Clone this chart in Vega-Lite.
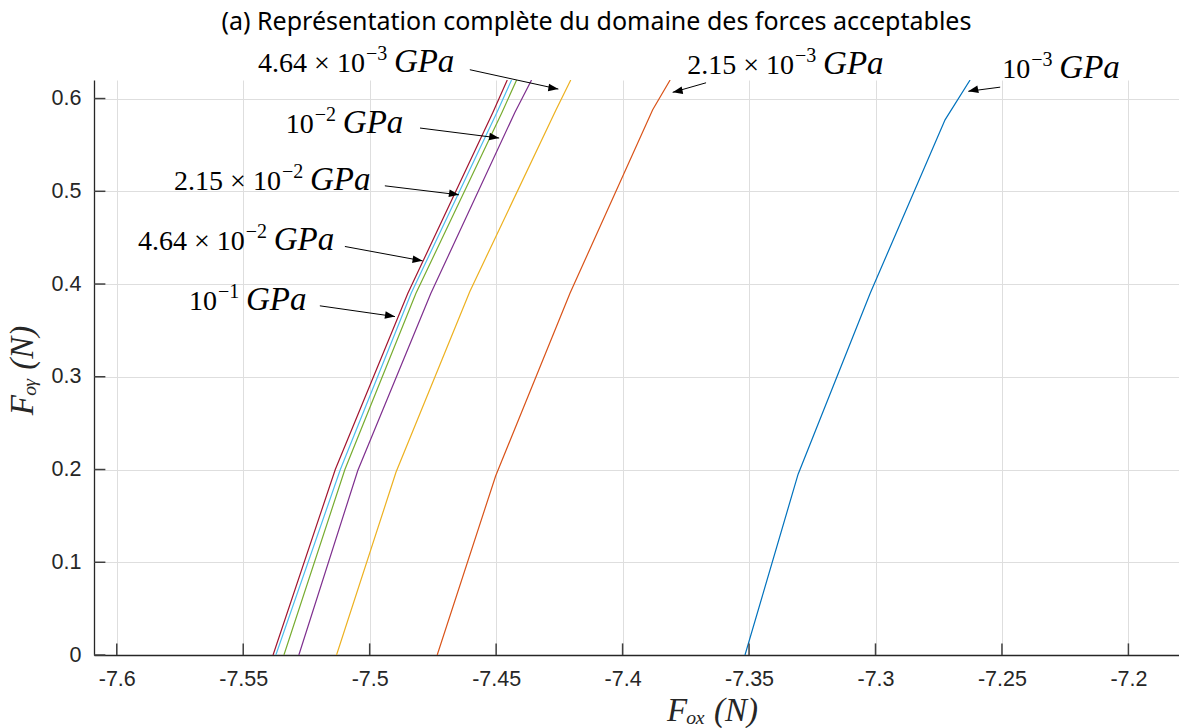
{
  "$schema": "https://vega.github.io/schema/vega-lite/v6.json",
  "width": 1085,
  "height": 575,
  "autosize": {"type": "none"},
  "padding": {"left": 94, "top": 80, "right": 0, "bottom": 73},
  "background": "white",
  "config": {
    "view": {"stroke": null},
    "axis": {
      "domainColor": "#262626",
      "domainWidth": 1.3,
      "ticks": false,
      "gridColor": "#dedede",
      "gridWidth": 1,
      "labelFont": "Liberation Sans",
      "labelFontSize": 21.5,
      "labelColor": "#262626",
      "titleFont": "Liberation Serif",
      "titleFontStyle": "italic",
      "titleFontWeight": "normal",
      "titleFontSize": 33,
      "titleColor": "#262626"
    }
  },
  "title": {
    "text": "(a) Représentation complète du domaine des forces acceptables",
    "font": "Noto Sans",
    "fontSize": 25,
    "fontWeight": "normal",
    "color": "#000000",
    "anchor": "middle",
    "frame": "group",
    "baseline": "bottom",
    "dx": -40,
    "dy": 24,
    "offset": 8
  },
  "datasets": {
    "curves": [
      {"s": "1e-3", "i": 0, "x": -7.3516, "y": 0},
      {"s": "1e-3", "i": 1, "x": -7.3306, "y": 0.195},
      {"s": "1e-3", "i": 2, "x": -7.3021, "y": 0.39},
      {"s": "1e-3", "i": 3, "x": -7.2725, "y": 0.577},
      {"s": "1e-3", "i": 4, "x": -7.2626, "y": 0.62},
      {"s": "2.15e-3", "i": 0, "x": -7.4733, "y": 0},
      {"s": "2.15e-3", "i": 1, "x": -7.4502, "y": 0.193},
      {"s": "2.15e-3", "i": 2, "x": -7.4208, "y": 0.39},
      {"s": "2.15e-3", "i": 3, "x": -7.3881, "y": 0.588},
      {"s": "2.15e-3", "i": 4, "x": -7.3812, "y": 0.62},
      {"s": "4.64e-3", "i": 0, "x": -7.5131, "y": 0},
      {"s": "4.64e-3", "i": 1, "x": -7.4896, "y": 0.197},
      {"s": "4.64e-3", "i": 2, "x": -7.4604, "y": 0.392},
      {"s": "4.64e-3", "i": 3, "x": -7.4263, "y": 0.588},
      {"s": "4.64e-3", "i": 4, "x": -7.4205, "y": 0.62},
      {"s": "1e-2", "i": 0, "x": -7.528, "y": 0},
      {"s": "1e-2", "i": 1, "x": -7.5047, "y": 0.199},
      {"s": "1e-2", "i": 2, "x": -7.4758, "y": 0.39},
      {"s": "1e-2", "i": 3, "x": -7.4426, "y": 0.585},
      {"s": "1e-2", "i": 4, "x": -7.436, "y": 0.62},
      {"s": "2.15e-2", "i": 0, "x": -7.5339, "y": 0},
      {"s": "2.15e-2", "i": 1, "x": -7.5098, "y": 0.2},
      {"s": "2.15e-2", "i": 2, "x": -7.4817, "y": 0.39},
      {"s": "2.15e-2", "i": 3, "x": -7.4477, "y": 0.585},
      {"s": "2.15e-2", "i": 4, "x": -7.4419, "y": 0.62},
      {"s": "4.64e-2", "i": 0, "x": -7.5371, "y": 0},
      {"s": "4.64e-2", "i": 1, "x": -7.5116, "y": 0.2},
      {"s": "4.64e-2", "i": 2, "x": -7.4836, "y": 0.39},
      {"s": "4.64e-2", "i": 3, "x": -7.4497, "y": 0.585},
      {"s": "4.64e-2", "i": 4, "x": -7.4439, "y": 0.62},
      {"s": "1e-1", "i": 0, "x": -7.5382, "y": 0},
      {"s": "1e-1", "i": 1, "x": -7.5136, "y": 0.2},
      {"s": "1e-1", "i": 2, "x": -7.4849, "y": 0.39},
      {"s": "1e-1", "i": 3, "x": -7.4513, "y": 0.585},
      {"s": "1e-1", "i": 4, "x": -7.4456, "y": 0.62}
    ],
    "labels": [
      {"base": "4.64 × 10", "sup": "−3", "x": -7.5015, "y": 0.6289, "ax": -7.4604, "ay": 0.6311, "tx": -7.4254, "ty": 0.6102},
      {"base": "10", "sup": "−2", "x": -7.5217, "y": 0.5631, "ax": -7.4801, "ay": 0.5682, "tx": -7.4488, "ty": 0.5574},
      {"base": "2.15 × 10", "sup": "−2", "x": -7.5347, "y": 0.5016, "ax": -7.494, "ay": 0.5059, "tx": -7.4647, "ty": 0.4962},
      {"base": "4.64 × 10", "sup": "−2", "x": -7.549, "y": 0.4369, "ax": -7.5098, "ay": 0.4405, "tx": -7.4791, "ty": 0.425},
      {"base": "10", "sup": "−1", "x": -7.56, "y": 0.3722, "ax": -7.5197, "ay": 0.3765, "tx": -7.49, "ty": 0.3649},
      {"base": "2.15 × 10", "sup": "−3", "x": -7.3318, "y": 0.6268, "ax": -7.367, "ay": 0.617, "tx": -7.3802, "ty": 0.6067},
      {"base": "10", "sup": "−3", "x": -7.2384, "y": 0.6219, "ax": -7.2507, "ay": 0.6123, "tx": -7.2633, "ty": 0.6078}
    ],
    "xticks": [
      {"v": -7.6}, {"v": -7.55}, {"v": -7.5}, {"v": -7.45}, {"v": -7.4},
      {"v": -7.35}, {"v": -7.3}, {"v": -7.25}, {"v": -7.2}
    ],
    "yticks": [
      {"v": 0}, {"v": 0.1}, {"v": 0.2}, {"v": 0.3}, {"v": 0.4}, {"v": 0.5}, {"v": 0.6}
    ]
  },
  "layer": [
    {
      "data": {"name": "curves"},
      "mark": {"type": "line", "strokeWidth": 1.2, "clip": true},
      "encoding": {
        "x": {
          "field": "x",
          "type": "quantitative",
          "scale": {"domain": [-7.609, -7.18], "nice": false, "zero": false},
          "axis": {
            "values": [-7.6, -7.55, -7.5, -7.45, -7.4, -7.35, -7.3, -7.25, -7.2],
            "labelExpr": "toString(datum.value)",
            "labelPadding": 13,
            "title": "Fₒₓ  (N)",
            "titleX": 618,
            "titleY": 65,
            "titleAlign": "center",
            "titleBaseline": "alphabetic"
          }
        },
        "y": {
          "field": "y",
          "type": "quantitative",
          "scale": {"domain": [0, 0.62], "nice": false, "zero": false},
          "axis": {
            "values": [0, 0.1, 0.2, 0.3, 0.4, 0.5, 0.6],
            "labelExpr": "toString(datum.value)",
            "labelPadding": 13,
            "title": "Fₒᵧ  (N)",
            "titleX": -62,
            "titleY": 290,
            "titleAngle": -90,
            "titleAlign": "center",
            "titleBaseline": "alphabetic"
          }
        },
        "color": {
          "field": "s",
          "type": "nominal",
          "scale": {
            "domain": ["1e-3", "2.15e-3", "4.64e-3", "1e-2", "2.15e-2", "4.64e-2", "1e-1"],
            "range": ["#0072BD", "#D95319", "#EDB120", "#7E2F8E", "#77AC30", "#4DBEEE", "#A2142F"]
          },
          "legend": null
        },
        "order": {"field": "i", "type": "quantitative"}
      }
    },
    {
      "data": {"name": "xticks"},
      "mark": {"type": "rule", "strokeWidth": 1.5, "color": "#404040"},
      "encoding": {
        "x": {"field": "v", "type": "quantitative"},
        "y": {"datum": 0},
        "y2": {"datum": 0.0125}
      }
    },
    {
      "data": {"name": "yticks"},
      "mark": {"type": "rule", "strokeWidth": 1.5, "color": "#404040"},
      "encoding": {
        "x": {"datum": -7.609},
        "x2": {"datum": -7.6045},
        "y": {"field": "v", "type": "quantitative"}
      }
    },
    {
      "data": {"name": "labels"},
      "mark": {"type": "rule", "color": "#000000", "strokeWidth": 1},
      "encoding": {
        "x": {"field": "ax", "type": "quantitative"},
        "y": {"field": "ay", "type": "quantitative"},
        "x2": {"field": "tx"},
        "y2": {"field": "ty"}
      }
    },
    {
      "data": {"name": "labels"},
      "transform": [{"filter": "datum.tx > datum.ax"}],
      "mark": {"type": "point", "shape": "M0,0L-2,-0.75L-2,0.75Z", "size": 100, "filled": true, "color": "#000000", "opacity": 1, "angle": 9},
      "encoding": {
        "x": {"field": "tx", "type": "quantitative"},
        "y": {"field": "ty", "type": "quantitative"}
      }
    },
    {
      "data": {"name": "labels"},
      "transform": [{"filter": "datum.tx < datum.ax"}],
      "mark": {"type": "point", "shape": "M0,0L-2,-0.75L-2,0.75Z", "size": 100, "filled": true, "color": "#000000", "opacity": 1, "angle": 168},
      "encoding": {
        "x": {"field": "tx", "type": "quantitative"},
        "y": {"field": "ty", "type": "quantitative"}
      }
    },
    {
      "data": {"name": "labels"},
      "mark": {"type": "text", "font": "Liberation Serif", "fontSize": 28, "align": "right", "baseline": "alphabetic", "dx": -1, "color": "#000000"},
      "encoding": {
        "x": {"field": "x", "type": "quantitative"},
        "y": {"field": "y", "type": "quantitative"},
        "text": {"field": "base"}
      }
    },
    {
      "data": {"name": "labels"},
      "mark": {"type": "text", "font": "Liberation Serif", "fontSize": 20, "align": "left", "baseline": "alphabetic", "dy": -12, "color": "#000000"},
      "encoding": {
        "x": {"field": "x", "type": "quantitative"},
        "y": {"field": "y", "type": "quantitative"},
        "text": {"field": "sup"}
      }
    },
    {
      "data": {"name": "labels"},
      "mark": {"type": "text", "font": "Liberation Serif", "fontStyle": "italic", "fontSize": 33, "align": "left", "baseline": "alphabetic", "dx": 28, "color": "#000000"},
      "encoding": {
        "x": {"field": "x", "type": "quantitative"},
        "y": {"field": "y", "type": "quantitative"},
        "text": {"value": "GPa"}
      }
    }
  ]
}
